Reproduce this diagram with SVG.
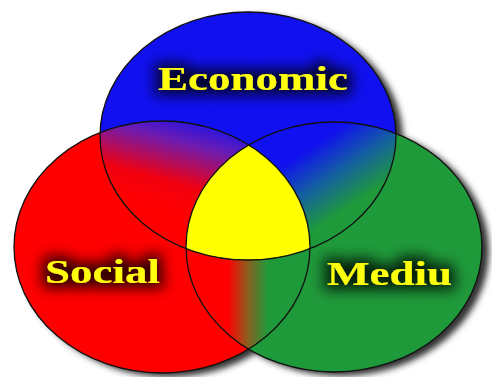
<svg xmlns="http://www.w3.org/2000/svg" width="492" height="377" viewBox="0 0 492 377">
  <defs>
    <style>
      .outline { fill: none; stroke: #111; stroke-width: 1.3; }
      .label { font-family: "Liberation Serif", "DejaVu Serif", serif; font-weight: bold; font-size: 34px; fill: #ffff10; }
    </style>
    <filter id="shadow" x="-10%" y="-10%" width="125%" height="125%">
      <feGaussianBlur stdDeviation="3"/>
    </filter>
    <filter id="halo" x="-30%" y="-80%" width="160%" height="260%">
      <feMorphology in="SourceAlpha" operator="dilate" radius="5" result="d"/>
      <feGaussianBlur in="d" stdDeviation="7" result="b"/>
      <feFlood flood-color="#000" flood-opacity="0.8"/>
      <feComposite in2="b" operator="in" result="s"/>
      <feMerge>
        <feMergeNode in="s"/>
        <feMergeNode in="SourceGraphic"/>
      </feMerge>
    </filter>
    <clipPath id="clipRed"><ellipse cx="162" cy="247" rx="148" ry="126"/></clipPath>
    <clipPath id="clipGreen"><ellipse cx="334" cy="247" rx="148" ry="125"/></clipPath>
    <linearGradient id="gRB" gradientUnits="userSpaceOnUse" x1="218" y1="120" x2="192" y2="216">
      <stop offset="0" stop-color="#1010f0"/>
      <stop offset="0.3" stop-color="#6a1cb4"/>
      <stop offset="0.72" stop-color="#f00010"/>
      <stop offset="1" stop-color="#ff0000"/>
    </linearGradient>
    <linearGradient id="gBG" gradientUnits="userSpaceOnUse" x1="288" y1="162" x2="328" y2="222">
      <stop offset="0" stop-color="#1010f0"/>
      <stop offset="0.5" stop-color="#1460a0"/>
      <stop offset="1" stop-color="#1f9a3a"/>
    </linearGradient>
    <linearGradient id="gRG" gradientUnits="userSpaceOnUse" x1="228" y1="0" x2="268" y2="0">
      <stop offset="0" stop-color="#ff0000"/>
      <stop offset="0.5" stop-color="#8a6020"/>
      <stop offset="1" stop-color="#1f9a3a"/>
    </linearGradient>
  </defs>

  <rect width="492" height="377" fill="#ffffff"/>

  <g id="shadows" filter="url(#shadow)" fill="#333333">
    <ellipse cx="255" cy="140" rx="148" ry="124"/>
    <ellipse cx="169" cy="251" rx="148" ry="126"/>
    <ellipse cx="341" cy="251" rx="148" ry="125"/>
  </g>

  <g id="social">
    <ellipse cx="162" cy="247" rx="148" ry="126" fill="#ff0000"/>
  </g>
  <g id="mediu">
    <ellipse cx="334" cy="247" rx="148" ry="125" fill="#1f9a3a"/>
  </g>
  <g id="economic">
    <ellipse cx="248" cy="136" rx="148" ry="124" fill="#1010f0"/>
  </g>

  <g id="overlaps">
    <g clip-path="url(#clipRed)">
      <ellipse cx="248" cy="136" rx="148" ry="124" fill="url(#gRB)"/>
      <ellipse cx="334" cy="247" rx="148" ry="125" fill="url(#gRG)"/>
    </g>
    <g clip-path="url(#clipGreen)">
      <ellipse cx="248" cy="136" rx="148" ry="124" fill="url(#gBG)"/>
    </g>
    <g id="center" clip-path="url(#clipRed)">
      <g clip-path="url(#clipGreen)">
        <ellipse cx="248" cy="136" rx="148" ry="124" fill="#ffff00"/>
      </g>
    </g>
  </g>

  <g id="connectors">
    <ellipse class="outline" cx="162" cy="247" rx="148" ry="126"/>
    <ellipse class="outline" cx="334" cy="247" rx="148" ry="125"/>
    <ellipse class="outline" cx="248" cy="136" rx="148" ry="124"/>
  </g>

  <g id="labels" filter="url(#halo)">
    <text class="label" x="158" y="90" textLength="190" lengthAdjust="spacingAndGlyphs">Economic</text>
    <text class="label" x="45" y="283" textLength="115" lengthAdjust="spacingAndGlyphs">Social</text>
    <text class="label" x="327" y="285" textLength="125" lengthAdjust="spacingAndGlyphs">Mediu</text>
  </g>
</svg>
